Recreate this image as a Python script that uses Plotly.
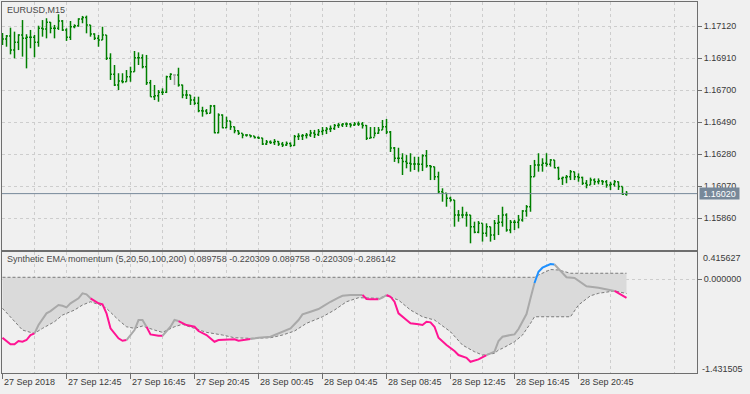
import plotly.graph_objects as go

W, H = 750, 394

# ---------------- price data (EURUSD M15, bar 0 = 27 Sep 2018 08:45) ----------------
bar_open = [
    1.17040, 1.17035, 1.17054, 1.16962, 1.17013, 1.17061, 1.17039, 1.17046, 1.17046, 1.17013,
    1.17105, 1.17100, 1.17144, 1.17105, 1.17105, 1.17153, 1.17094, 1.17046, 1.17115, 1.17122,
    1.17166, 1.17175, 1.17127, 1.17068, 1.17039, 1.17028, 1.17061, 1.16908, 1.16803, 1.16733,
    1.16759, 1.16754, 1.16787, 1.16820, 1.16912, 1.16912, 1.16853, 1.16748, 1.16656, 1.16663,
    1.16685, 1.16685, 1.16787, 1.16798, 1.16798, 1.16733, 1.16667, 1.16667, 1.16634, 1.16613,
    1.16564, 1.16562, 1.16547, 1.16595, 1.16420, 1.16536, 1.16453, 1.16497, 1.16459, 1.16433,
    1.16416, 1.16405, 1.16405, 1.16398, 1.16388, 1.16385, 1.16346, 1.16359, 1.16356, 1.16362,
    1.16346, 1.16339, 1.16349, 1.16336, 1.16395, 1.16398, 1.16401, 1.16405, 1.16418, 1.16408,
    1.16428, 1.16434, 1.16444, 1.16447, 1.16467, 1.16470, 1.16477, 1.16477, 1.16470, 1.16477,
    1.16477, 1.16467, 1.16383, 1.16388, 1.16416, 1.16438, 1.16459, 1.16424, 1.16319, 1.16252,
    1.16252, 1.16230, 1.16219, 1.16214, 1.16214, 1.16212, 1.16269, 1.16203, 1.16197, 1.16131,
    1.16033, 1.16022, 1.15989, 1.15978, 1.15880, 1.15880, 1.15880, 1.15880, 1.15803, 1.15766,
    1.15825, 1.15760, 1.15803, 1.15748, 1.15825, 1.15832, 1.15880, 1.15781, 1.15832, 1.15832,
    1.15847, 1.15906, 1.15934, 1.16131, 1.16208, 1.16208, 1.16219, 1.16212, 1.16241, 1.16190,
    1.16120, 1.16125, 1.16131, 1.16164, 1.16131, 1.16125, 1.16088, 1.16077, 1.16109, 1.16098,
    1.16103, 1.16098, 1.16077, 1.16081, 1.16098, 1.16066, 1.16016,
]
bar_high = [
    1.17074, 1.17061, 1.17109, 1.17083, 1.17066, 1.17159, 1.17066, 1.17094, 1.17061, 1.17122,
    1.17159, 1.17171, 1.17146, 1.17127, 1.17197, 1.17159, 1.17105, 1.17153, 1.17131, 1.17171,
    1.17186, 1.17188, 1.17127, 1.17072, 1.17061, 1.17115, 1.17061, 1.16941, 1.16864, 1.16810,
    1.16810, 1.16831, 1.16853, 1.16956, 1.16947, 1.16934, 1.16930, 1.16766, 1.16733, 1.16700,
    1.16711, 1.16794, 1.16810, 1.16803, 1.16846, 1.16735, 1.16700, 1.16667, 1.16656, 1.16656,
    1.16590, 1.16575, 1.16602, 1.16602, 1.16547, 1.16540, 1.16525, 1.16497, 1.16460, 1.16435,
    1.16416, 1.16409, 1.16405, 1.16398, 1.16395, 1.16386, 1.16372, 1.16369, 1.16378, 1.16365,
    1.16359, 1.16362, 1.16356, 1.16405, 1.16416, 1.16411, 1.16418, 1.16438, 1.16438, 1.16444,
    1.16457, 1.16457, 1.16467, 1.16477, 1.16483, 1.16483, 1.16487, 1.16483, 1.16490, 1.16493,
    1.16490, 1.16470, 1.16457, 1.16457, 1.16457, 1.16503, 1.16510, 1.16431, 1.16326, 1.16321,
    1.16285, 1.16273, 1.16285, 1.16262, 1.16262, 1.16278, 1.16306, 1.16208, 1.16197, 1.16164,
    1.16055, 1.16025, 1.16000, 1.15978, 1.15912, 1.15934, 1.15901, 1.15880, 1.15836, 1.15840,
    1.15825, 1.15825, 1.15803, 1.15847, 1.15880, 1.15934, 1.15891, 1.15847, 1.15847, 1.15880,
    1.15912, 1.15945, 1.16208, 1.16241, 1.16285, 1.16252, 1.16285, 1.16247, 1.16241, 1.16197,
    1.16131, 1.16142, 1.16175, 1.16164, 1.16153, 1.16131, 1.16109, 1.16125, 1.16120, 1.16120,
    1.16109, 1.16109, 1.16098, 1.16109, 1.16100, 1.16066, 1.16037,
]
bar_low = [
    1.16995, 1.16984, 1.16934, 1.16908, 1.16962, 1.16919, 1.16842, 1.16974, 1.16915, 1.16984,
    1.17050, 1.17039, 1.17072, 1.17039, 1.17094, 1.17087, 1.17022, 1.17028, 1.17105, 1.17115,
    1.17138, 1.17072, 1.17050, 1.17028, 1.16984, 1.17028, 1.16897, 1.16766, 1.16726, 1.16700,
    1.16744, 1.16754, 1.16754, 1.16820, 1.16864, 1.16842, 1.16733, 1.16656, 1.16634, 1.16623,
    1.16667, 1.16680, 1.16766, 1.16733, 1.16722, 1.16646, 1.16641, 1.16602, 1.16602, 1.16554,
    1.16525, 1.16540, 1.16547, 1.16416, 1.16416, 1.16449, 1.16450, 1.16438, 1.16416, 1.16405,
    1.16383, 1.16394, 1.16388, 1.16382, 1.16378, 1.16339, 1.16339, 1.16346, 1.16339, 1.16333,
    1.16326, 1.16333, 1.16326, 1.16333, 1.16372, 1.16372, 1.16382, 1.16392, 1.16385, 1.16398,
    1.16405, 1.16411, 1.16424, 1.16438, 1.16451, 1.16457, 1.16457, 1.16454, 1.16464, 1.16464,
    1.16447, 1.16372, 1.16383, 1.16394, 1.16412, 1.16438, 1.16411, 1.16293, 1.16228, 1.16219,
    1.16142, 1.16186, 1.16164, 1.16175, 1.16164, 1.16168, 1.16190, 1.16109, 1.16109, 1.16022,
    1.15967, 1.15934, 1.15967, 1.15803, 1.15836, 1.15858, 1.15803, 1.15694, 1.15760, 1.15760,
    1.15705, 1.15737, 1.15705, 1.15716, 1.15748, 1.15803, 1.15770, 1.15760, 1.15781, 1.15792,
    1.15836, 1.15869, 1.15901, 1.16131, 1.16164, 1.16164, 1.16197, 1.16197, 1.16186, 1.16109,
    1.16077, 1.16088, 1.16109, 1.16109, 1.16098, 1.16077, 1.16055, 1.16077, 1.16077, 1.16081,
    1.16077, 1.16059, 1.16044, 1.16066, 1.16044, 1.16011, 1.16006,
]
bar_close = [
    1.17035, 1.17054, 1.16962, 1.17013, 1.17061, 1.17039, 1.17046, 1.17046, 1.17013, 1.17105,
    1.17100, 1.17144, 1.17105, 1.17105, 1.17153, 1.17094, 1.17046, 1.17115, 1.17122, 1.17166,
    1.17175, 1.17127, 1.17068, 1.17039, 1.17028, 1.17061, 1.16908, 1.16803, 1.16733, 1.16759,
    1.16754, 1.16787, 1.16820, 1.16912, 1.16912, 1.16853, 1.16748, 1.16656, 1.16663, 1.16685,
    1.16685, 1.16787, 1.16803, 1.16798, 1.16733, 1.16667, 1.16667, 1.16634, 1.16613, 1.16564,
    1.16562, 1.16547, 1.16595, 1.16420, 1.16536, 1.16453, 1.16497, 1.16459, 1.16433, 1.16416,
    1.16405, 1.16405, 1.16398, 1.16388, 1.16385, 1.16346, 1.16359, 1.16356, 1.16362, 1.16346,
    1.16339, 1.16349, 1.16336, 1.16395, 1.16398, 1.16401, 1.16405, 1.16418, 1.16408, 1.16428,
    1.16434, 1.16444, 1.16447, 1.16467, 1.16470, 1.16477, 1.16477, 1.16470, 1.16477, 1.16477,
    1.16467, 1.16383, 1.16388, 1.16416, 1.16438, 1.16459, 1.16424, 1.16319, 1.16252, 1.16252,
    1.16230, 1.16219, 1.16214, 1.16214, 1.16212, 1.16269, 1.16203, 1.16197, 1.16131, 1.16033,
    1.16022, 1.15989, 1.15978, 1.15880, 1.15880, 1.15880, 1.15880, 1.15803, 1.15766, 1.15825,
    1.15760, 1.15803, 1.15748, 1.15825, 1.15832, 1.15880, 1.15781, 1.15832, 1.15832, 1.15847,
    1.15906, 1.15934, 1.16131, 1.16208, 1.16208, 1.16219, 1.16212, 1.16241, 1.16190, 1.16120,
    1.16125, 1.16131, 1.16164, 1.16131, 1.16125, 1.16088, 1.16077, 1.16109, 1.16098, 1.16103,
    1.16098, 1.16077, 1.16081, 1.16098, 1.16066, 1.16016, 1.16020,
]
doji_bars = [43]

price_ticks = [1.15860, 1.16070, 1.16280, 1.16490, 1.16700, 1.16910, 1.17120]
time_tick_bars = [0, 16, 32, 48, 64, 80, 96, 112, 128, 144]
time_tick_labels = ["27 Sep 2018", "27 Sep 12:45", "27 Sep 16:45", "27 Sep 20:45",
                    "28 Sep 00:45", "28 Sep 04:45", "28 Sep 08:45", "28 Sep 12:45",
                    "28 Sep 16:45", "28 Sep 20:45"]
half_grid_bars = [8, 24, 40, 56, 72, 88, 104, 120, 136, 152, 168]

# ---------------- indicator data ----------------
ind_title = "Synthetic EMA momentum (5,20,50,100,200) 0.089758 -0.220309 0.089758 -0.220309 -0.286142"
ind_min, ind_max = -1.431505, 0.415627

main_idx = [0, 2, 3, 4, 5, 6, 7, 8, 9, 11, 12, 14, 15, 16, 17, 19, 20, 21, 22, 24, 25, 26, 27, 29,
            30, 31, 33, 34, 35, 36, 37, 39, 40, 42, 43, 44, 46, 48, 49, 51, 53, 54, 56, 58, 59,
            61, 62, 64, 67, 69, 72, 74, 75, 77, 79, 80, 82, 84, 85, 87, 90, 91, 92, 94, 95, 96,
            97, 98, 99, 101, 102, 104, 105, 106, 107, 108, 109, 111, 113, 114, 116, 117, 119,
            121, 123, 124, 125, 127, 128, 129, 131, 132, 133, 134, 135, 137, 138, 139, 140, 141,
            143, 144, 146, 149, 151, 152, 153, 154, 155, 156]
main_val = [-0.899, -1.000, -1.000, -0.949, -0.960, -0.934, -0.857, -0.831, -0.704, -0.525,
            -0.490, -0.397, -0.408, -0.433, -0.371, -0.294, -0.218, -0.233, -0.294, -0.371,
            -0.387, -0.525, -0.755, -0.908, -0.945, -0.934, -0.781, -0.627, -0.627, -0.730,
            -0.847, -0.868, -0.868, -0.730, -0.627, -0.643, -0.704, -0.730, -0.796, -0.857,
            -0.960, -0.934, -0.923, -0.923, -0.945, -0.934, -0.919, -0.899, -0.883, -0.831,
            -0.755, -0.627, -0.540, -0.500, -0.459, -0.423, -0.347, -0.285, -0.255, -0.244,
            -0.244, -0.305, -0.310, -0.310, -0.285, -0.244, -0.270, -0.347, -0.525, -0.627,
            -0.678, -0.693, -0.704, -0.653, -0.663, -0.730, -0.899, -1.011, -1.103, -1.164,
            -1.206, -1.267, -1.230, -1.164, -1.113, -0.949, -0.883, -0.857, -0.847, -0.765,
            -0.535, -0.294, -0.060, 0.113, 0.175, 0.232, 0.224, 0.155, 0.089, 0.028,
            0.017, -0.029, -0.110, -0.132, -0.160, -0.166, -0.181, -0.217, -0.259, -0.286142]

lower_idx = [0, 2, 4, 5, 7, 8, 10, 13, 15, 18, 20, 22, 24, 26, 29, 31, 33, 35, 38, 40, 43, 45,
             48, 51, 55, 58, 62, 67, 70, 73, 76, 80, 83, 86, 89, 91, 94, 96, 99, 102, 105, 108,
             112, 115, 118, 120, 123, 124, 125, 128, 130, 132, 133, 137, 142, 144, 147, 149,
             153, 156]
lower_val = [-0.448, -0.577, -0.704, -0.781, -0.816, -0.831, -0.755, -0.653, -0.551, -0.474,
             -0.397, -0.347, -0.387, -0.448, -0.627, -0.730, -0.755, -0.719, -0.781, -0.816,
             -0.730, -0.693, -0.755, -0.816, -0.857, -0.899, -0.908, -0.899, -0.857, -0.796,
             -0.678, -0.577, -0.474, -0.347, -0.285, -0.285, -0.294, -0.255, -0.321, -0.474,
             -0.577, -0.627, -0.807, -1.011, -1.113, -1.164, -1.138, -1.087, -1.061, -0.960,
             -0.857, -0.678, -0.577, -0.577, -0.577, -0.397, -0.255, -0.218, -0.181, -0.220309]

upper_idx = [0, 133, 134, 136, 137, 139, 141, 142, 156]
upper_val = [0.028, 0.028, 0.063, 0.124, 0.147, 0.140, 0.101, 0.0898, 0.089758]

# colour state of the momentum line: (first bar, last bar, state)
segments = [(0, 8, "down"), (8, 22, "flat"), (22, 31, "down"), (31, 36, "flat"),
            (36, 40, "down"), (40, 44, "flat"), (44, 62, "down"), (62, 90, "flat"),
            (90, 94, "down"), (94, 96, "flat"), (96, 121, "down"), (121, 133, "flat"),
            (133, 138, "up"), (138, 153, "flat"), (153, 156, "down")]
state_color = {"down": "#ff1493", "flat": "#a9a9a9", "up": "#1e90ff"}

# ---------------- styling ----------------
BG = "#f0f0f0"
FRAME = "#6e6e6e"
GRID = "#cdcdcd"
TXT = "#3a3a3a"
FONT = "Liberation Sans"
FS = 9
BAR_GREEN = "#008000"
N_VIEW = 173.75  # bars that fit the chart width


def ypx(px):
    return (H - px) / H


def xpx(px):
    return px / W


fig = go.Figure()


# ---- OHLC bars built as line segments ----
def bar_path(indices):
    xs, ys = [], []
    tw = 0.36
    for i in indices:
        xs += [i, i, None, i - tw, i, None, i, i + tw, None]
        ys += [bar_low[i], bar_high[i], None, bar_open[i], bar_open[i], None,
               bar_close[i], bar_close[i], None]
    return xs, ys


normal = [i for i in range(len(bar_close)) if i not in doji_bars]
bx, by = bar_path(normal)
fig.add_trace(go.Scatter(x=bx, y=by, mode="lines", line=dict(color=BAR_GREEN, width=1.5),
                         xaxis="x", yaxis="y", hoverinfo="skip", showlegend=False))
dx, dy = bar_path(doji_bars)
fig.add_trace(go.Scatter(x=dx, y=dy, mode="lines", line=dict(color="#a0a0a0", width=1.5),
                         xaxis="x", yaxis="y", hoverinfo="skip", showlegend=False))

# ---- indicator: band fill + dashed band lines ----
fig.add_trace(go.Scatter(x=lower_idx, y=lower_val, mode="lines",
                         line=dict(color="#7a7a7a", width=1, dash="3px,2px"),
                         xaxis="x2", yaxis="y2", hoverinfo="skip", showlegend=False))
fig.add_trace(go.Scatter(x=upper_idx, y=upper_val, mode="lines", fill="tonexty",
                         fillcolor="#dadada",
                         line=dict(color="#7a7a7a", width=1, dash="3px,2px"),
                         xaxis="x2", yaxis="y2", hoverinfo="skip", showlegend=False))

# ---- momentum line, coloured per state ----
for s, e, st in segments:
    xs = [i for i in main_idx if s <= i <= e]
    ys = [v for i, v in zip(main_idx, main_val) if s <= i <= e]
    fig.add_trace(go.Scatter(x=xs, y=ys, mode="lines",
                             line=dict(color=state_color[st], width=2),
                             xaxis="x2", yaxis="y2", hoverinfo="skip", showlegend=False))

dom_x = [xpx(2), xpx(697)]
xr = [-0.125, N_VIEW - 0.125]

axis_common = dict(showline=True, mirror=True, linecolor=FRAME, linewidth=1, zeroline=False,
                   gridcolor=GRID, griddash="3px,3px", gridwidth=1, fixedrange=True,
                   automargin=False)

last_close = bar_close[-1]

fig.update_layout(
    template="none",
    width=W, height=H,
    margin=dict(l=0, r=0, t=0, b=0, pad=0, autoexpand=False),
    paper_bgcolor=BG, plot_bgcolor=BG,
    font=dict(family=FONT, size=FS, color=TXT),
    showlegend=False,
    hovermode=False,
    xaxis=dict(domain=dom_x, range=xr, anchor="y", showticklabels=False, ticks="",
               tickmode="array", tickvals=time_tick_bars + half_grid_bars, showgrid=True,
               **axis_common),
    yaxis=dict(domain=[ypx(250), ypx(2)], range=[1.156500, 1.172775], anchor="x", side="right",
               tickmode="array", tickvals=price_ticks, ticktext=[f"{p:.5f}" for p in price_ticks],
               ticks="outside", ticklen=4, tickcolor=FRAME, showgrid=True,
               tickfont=dict(family=FONT, size=FS, color=TXT), **axis_common),
    xaxis2=dict(domain=dom_x, range=xr, anchor="y2", showticklabels=False,
                tickmode="array", tickvals=time_tick_bars, ticks="outside", ticklen=5,
                tickcolor=FRAME, showgrid=True,
                minor=dict(tickmode="array", tickvals=half_grid_bars, showgrid=True,
                           gridcolor=GRID, griddash="3px,3px", ticks=""),
                **axis_common),
    yaxis2=dict(domain=[ypx(372.5), ypx(252)], range=[ind_min, ind_max], anchor="x2",
                side="right", tickmode="array", tickvals=[0], ticktext=["0.000000"],
                ticks="outside", ticklen=4, tickcolor=FRAME, showgrid=True,
                tickfont=dict(family=FONT, size=FS, color=TXT), **axis_common),
)

# current price line
fig.add_shape(type="line", xref="paper", x0=xpx(2), x1=xpx(697), yref="y",
              y0=last_close, y1=last_close, line=dict(color="#778899", width=1))

ann = []
ann.append(dict(text="EURUSD,M15", xref="paper", yref="paper", x=xpx(5), y=ypx(9.5),
                xanchor="left", yanchor="middle", showarrow=False,
                font=dict(family=FONT, size=FS, color="#4a4a4a")))
ann.append(dict(text=ind_title, xref="paper", yref="paper", x=xpx(5), y=ypx(259),
                xanchor="left", yanchor="middle", showarrow=False,
                font=dict(family=FONT, size=FS, color="#4a4a4a")))
ann.append(dict(text=f"{ind_max:.6f}", xref="paper", yref="paper", x=xpx(701), y=ypx(258),
                xanchor="left", yanchor="middle", showarrow=False,
                font=dict(family=FONT, size=FS, color=TXT)))
ann.append(dict(text=f"{ind_min:.6f}", xref="paper", yref="paper", x=xpx(700), y=ypx(368.5),
                xanchor="left", yanchor="middle", showarrow=False,
                font=dict(family=FONT, size=FS, color=TXT)))
ann.append(dict(text=f"{last_close:.5f}", xref="paper", yref="y", x=xpx(699), y=last_close,
                xanchor="left", yanchor="middle", showarrow=False, bgcolor="#778899",
                width=38, height=10, borderpad=0.5,
                font=dict(family=FONT, size=FS, color="#ffffff")))
for b, lab in zip(time_tick_bars, time_tick_labels):
    ann.append(dict(text=lab, xref="x2", yref="paper", x=b, y=ypx(382),
                    xanchor="left", yanchor="middle", showarrow=False, xshift=-1,
                    font=dict(family=FONT, size=FS, color=TXT)))
fig.update_layout(annotations=ann)

fig.write_html("out.html",
               config={"displayModeBar": False, "staticPlot": True},
               post_script="document.body.style.margin='0';document.body.style.overflow='hidden';")
